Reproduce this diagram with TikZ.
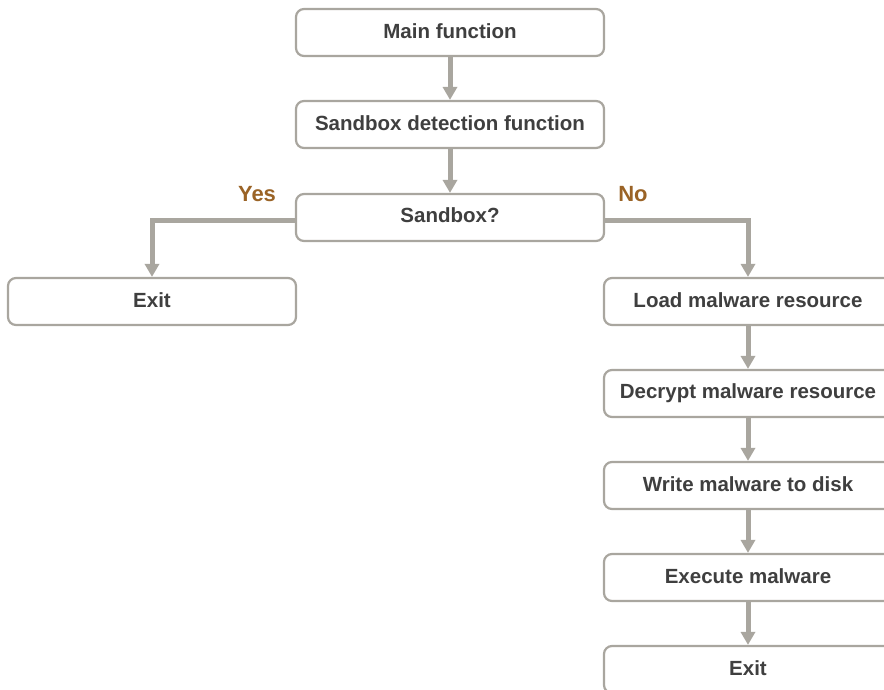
\documentclass[tikz,border=0pt]{standalone}
\usepackage{fontspec}
\setmainfont{Liberation Sans}
\usetikzlibrary{arrows.meta}
\definecolor{edge}{HTML}{A9A69F}
\definecolor{txt}{HTML}{3F3F3F}
\definecolor{lab}{HTML}{9A6326}
\tikzset{
  box/.style={draw=edge, line width=2.2pt, rounded corners=8pt, fill=white,
    minimum width=288pt, minimum height=47pt, inner sep=0pt,
    font=\fontsize{20.5}{24}\selectfont\bfseries, text=txt},
  conn/.style={draw=edge, line width=5pt, -{Triangle[length=13pt,width=14pt]}},
  lbl/.style={font=\fontsize{22}{26}\selectfont\bfseries, text=lab}
}
\begin{document}
\begin{tikzpicture}[x=1pt,y=-1pt]
\useasboundingbox (0,0) rectangle (884,689);
\clip (0,0) rectangle (884,689);
\node[box, minimum width=308pt] (main) at (450,32.5) {\raisebox{3pt}{Main function}};
\node[box, minimum width=308pt] (det) at (450,124.5) {\raisebox{3pt}{Sandbox detection function}};
\node[box, minimum width=308pt] (sb) at (450,217.5) {\raisebox{5pt}{Sandbox?}};
\node[box] (exitl) at (152,301.5) {\raisebox{3pt}{Exit}};
\node[box] (load) at (748,301.5) {\raisebox{3pt}{Load malware resource}};
\node[box] (dec) at (748,393.5) {\raisebox{3pt}{Decrypt malware resource}};
\node[box] (wr) at (748,485.5) {\raisebox{3pt}{Write malware to disk}};
\node[box] (ex) at (748,577.5) {\raisebox{3pt}{Execute malware}};
\node[box] (exitr) at (748,669.5) {\raisebox{3pt}{Exit}};
\node[lbl] (yes) at (257,194) {Yes};
\node[lbl] (no) at (633,194) {No};
\draw[conn] (main.south) -- (det.north);
\draw[conn] (det.south) -- (sb.north);
\draw[conn, rounded corners=0pt] ([yshift=-3pt]sb.west) -| (exitl.north);
\draw[conn, rounded corners=0pt] ([yshift=-3pt]sb.east) -| (load.north);
\draw[conn] (load.south) -- (dec.north);
\draw[conn] (dec.south) -- (wr.north);
\draw[conn] (wr.south) -- (ex.north);
\draw[conn] (ex.south) -- (exitr.north);
\end{tikzpicture}
\end{document}
